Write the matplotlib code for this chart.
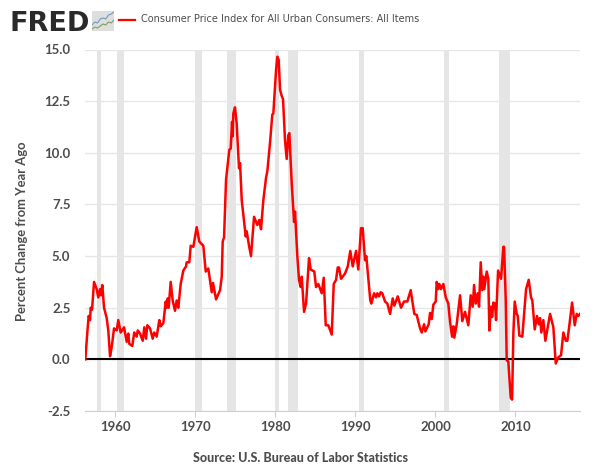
# -*- coding: utf-8 -*-
import matplotlib
matplotlib.use('Agg')
import matplotlib.pyplot as plt

# CPI percent change from year ago
years = [1956.24,1956.49,1956.66,1956.83,1956.91,1957.08,1957.33,1957.66,1957.86,1958.08,1958.2,1958.36,1958.58,1958.91,1959.11,1959.33,1959.54,1959.83,
1960.16,1960.36,1960.66,1961.08,1961.41,1961.61,1961.74,1962.11,1962.36,1962.66,1962.79,1963.08,1963.41,1963.61,1963.83,1963.99,1964.33,1964.66,1964.86,1965.16,1965.49,1965.66,1965.99,1966.29,1966.41,1966.54,1966.66,1966.91,1967.16,1967.45,1967.66,1967.86,1968.16,1968.49,1968.83,1968.91,1969.24,1969.41,1969.74,
1970.16,1970.49,1970.99,1971.29,1971.61,1972.04,1972.2,1972.58,1973.08,1973.29,1973.36,1973.41,1973.58,1973.7,1973.83,1974.24,1974.41,1974.58,1974.66,1974.74,1974.95,1975.16,1975.45,1975.58,1975.79,1976.29,1976.41,1976.7,1976.95,1977.33,1977.74,1977.99,1978.2,1978.49,1978.83,1978.99,1979.33,1979.61,1979.74,
1980.08,1980.24,1980.41,1980.58,1980.79,1980.95,1981.2,1981.41,1981.61,1981.74,1982.04,1982.33,1982.45,1982.74,1982.95,1983.16,1983.29,1983.58,1983.83,1984.2,1984.41,1984.86,1985.08,1985.36,1985.79,1986.04,1986.29,1986.61,1987.04,1987.29,1987.58,1987.79,1987.95,1988.2,1988.7,1989.04,1989.36,1989.66,
1990.08,1990.36,1990.7,1990.91,1991.2,1991.36,1991.86,1991.99,1992.33,1992.58,1992.74,1992.95,1993.16,1993.36,1993.7,1993.99,1994.33,1994.66,1994.86,1995.29,1995.7,1996.08,1996.49,1996.91,1997.36,1997.66,1998.08,1998.29,1998.58,1998.74,1999.16,1999.33,1999.54,1999.74,
2000.04,2000.16,2000.36,2000.49,2000.7,2000.99,2001.29,2001.61,2001.83,2002.08,2002.24,2002.36,2002.66,2003.08,2003.36,2003.7,2004.11,2004.41,2004.66,2004.83,2005.04,2005.29,2005.45,2005.66,2005.86,2005.99,2006.11,2006.41,2006.61,2006.74,2006.95,2007.08,2007.24,2007.45,2007.58,2007.83,2008.2,2008.49,2008.58,2008.79,2008.91,2009.11,2009.41,2009.58,2009.74,2009.91,
2010.16,2010.29,2010.49,2010.86,2011.33,2011.66,2011.95,2012.11,2012.41,2012.7,2012.91,2013.08,2013.24,2013.49,2013.74,2013.99,2014.33,2014.74,2015.04,2015.36,2015.7,2015.99,2016.29,2016.49,2016.74,2017.08,2017.41,2017.66,2017.86,2018.07]
cpi = [0.0,1.3,2.1,1.9,2.5,2.4,3.75,3.4,3.0,3.4,3.1,3.6,2.5,2.0,1.4,0.15,0.6,1.5,
1.4,1.9,1.3,1.55,0.85,1.25,0.75,0.65,1.3,1.1,1.4,1.25,0.9,1.55,1.0,1.65,1.5,1.0,1.3,1.1,1.9,1.6,1.75,2.8,2.5,2.95,2.5,3.75,2.85,2.35,2.85,2.5,3.65,4.3,4.5,4.7,4.7,5.5,5.45,
6.4,5.7,5.5,4.25,4.4,3.25,3.7,2.9,3.35,4.0,5.0,5.7,5.9,7.2,8.7,10.15,10.2,11.5,10.8,11.9,12.2,11.4,9.25,9.5,7.7,5.95,6.2,5.5,5.0,6.9,6.5,6.75,6.3,7.7,8.8,9.1,10.5,11.85,11.9,
14.0,14.65,14.5,13.05,12.75,12.6,10.6,9.7,10.85,10.95,8.5,6.65,7.15,5.0,3.85,3.5,4.0,2.3,2.7,4.9,4.35,4.25,3.5,3.65,3.2,3.95,1.65,1.65,1.2,3.65,3.85,4.45,4.45,3.9,4.15,4.5,5.25,4.5,
5.25,4.35,6.35,6.35,4.8,5.0,2.85,2.7,3.2,3.0,3.2,3.05,3.25,3.2,2.8,2.7,2.2,2.95,2.6,3.05,2.5,2.8,2.8,3.35,2.2,2.15,1.5,1.3,1.7,1.35,1.7,2.25,1.95,2.65,
2.8,3.75,3.4,3.65,3.4,3.65,3.0,2.7,1.8,1.1,1.6,1.05,1.7,3.1,1.85,2.3,1.65,3.1,2.55,3.6,2.7,3.2,2.55,4.7,3.35,4.0,3.4,4.25,3.9,1.4,2.55,2.05,2.75,2.7,1.9,4.3,3.9,5.45,5.45,2.85,-0.05,-0.1,-1.85,-1.95,1.25,2.8,
2.2,2.1,1.15,1.1,3.4,3.85,3.0,2.85,1.45,2.1,1.7,2.0,1.3,1.9,0.9,1.45,2.2,1.55,-0.2,0.1,0.2,1.3,0.9,0.9,1.65,2.75,1.65,2.2,2.1,2.2]

rec_start = [1957.66,1960.24,1969.99,1973.91,1979.99,1981.58,1990.49,2001.11,2007.91]
rec_end = [1958.2,1961.1,1970.86,1975.11,1980.49,1982.83,1991.07,2001.73,2009.36]
yticks = [-2.5,0,2.5,5,7.5,10,12.5,15]
xticks = [1960,1970,1980,1990,2000,2010]
# little logo icon lines
icon_x = [0,1,2,3,4,5,6,7,8]
icon_blue = [3,4.5,4,6,6.5,6,8,8.5,9.5]
icon_green = [1,2,1.5,2.5,3.5,3,4.5,4,5.5]

grey = '#4d4d4d'
fig = plt.figure(figsize=(6,4.68),dpi=100)
ax = fig.add_axes([85/600,1-411/468,495/600,(411-49.5)/468])
ax.set_xlim(1956.2,2018.07)
ax.set_ylim(-2.5,15)
ax.grid(axis='y',color='#e6e6e6',lw=1,zorder=0)
for a,b in zip(rec_start,rec_end):
    ax.axvspan(a,b,color='#e5e5e5',lw=0,zorder=1)
ax.axhline(0,color='black',lw=1.5,zorder=2)
ax.plot(years,cpi,color='#ff0000',lw=1.8,zorder=3,solid_joinstyle='round')
for s in ['top','left','right']:
    ax.spines[s].set_visible(False)
ax.spines['bottom'].set_color('#c8d0e0')
ax.set_xticks(xticks)
ax.set_yticks(yticks)
ax.set_yticklabels(['%.1f' % v for v in yticks])
ax.tick_params(axis='x',color='#c8d0e0',length=4,labelsize=9.5,labelcolor=grey,pad=3)
ax.tick_params(axis='y',length=0,labelsize=9.5,labelcolor=grey,pad=10.5)
for lab in ax.get_xticklabels()+ax.get_yticklabels():
    lab.set_family('Lato')
    lab.set_fontweight('bold')

fig.text(22/600,1-231/468,'Percent Change from Year Ago',rotation=90,ha='center',va='center',
         family='Lato',fontweight='bold',fontsize=9.4,color=grey)
fig.text(300.5/600,1-458/468,'Source: U.S. Bureau of Labor Statistics',ha='center',va='center',
         family='Lato',fontweight='black',fontsize=9.0,color=grey)

# header
fig.text(9.5/600,1-31/468,'FRED',ha='left',va='baseline',family='DejaVu Sans',fontweight='bold',fontsize=19.5,color='#2a2a2a')
icon = fig.add_axes([92/600,1-31/468,22/600,20/468],facecolor='#dedede')
icon.plot(icon_x,icon_blue,color='#6f9bb8',lw=0.8)
icon.plot(icon_x,icon_green,color='#7f9f5c',lw=0.8)
icon.set_xlim(0,8)
icon.set_ylim(0,10)
icon.set_xticks([])
icon.set_yticks([])
for s in icon.spines.values():
    s.set_visible(False)
fig.add_artist(plt.Line2D([119/600,135/600],[1-19.5/468,1-19.5/468],color='#ff0000',lw=1.6))
fig.text(141/600,1-18.5/468,'Consumer Price Index for All Urban Consumers: All Items',ha='left',va='center',
         family='DejaVu Sans',fontsize=7.0,color=grey)

fig.savefig('out.png',dpi=100)
